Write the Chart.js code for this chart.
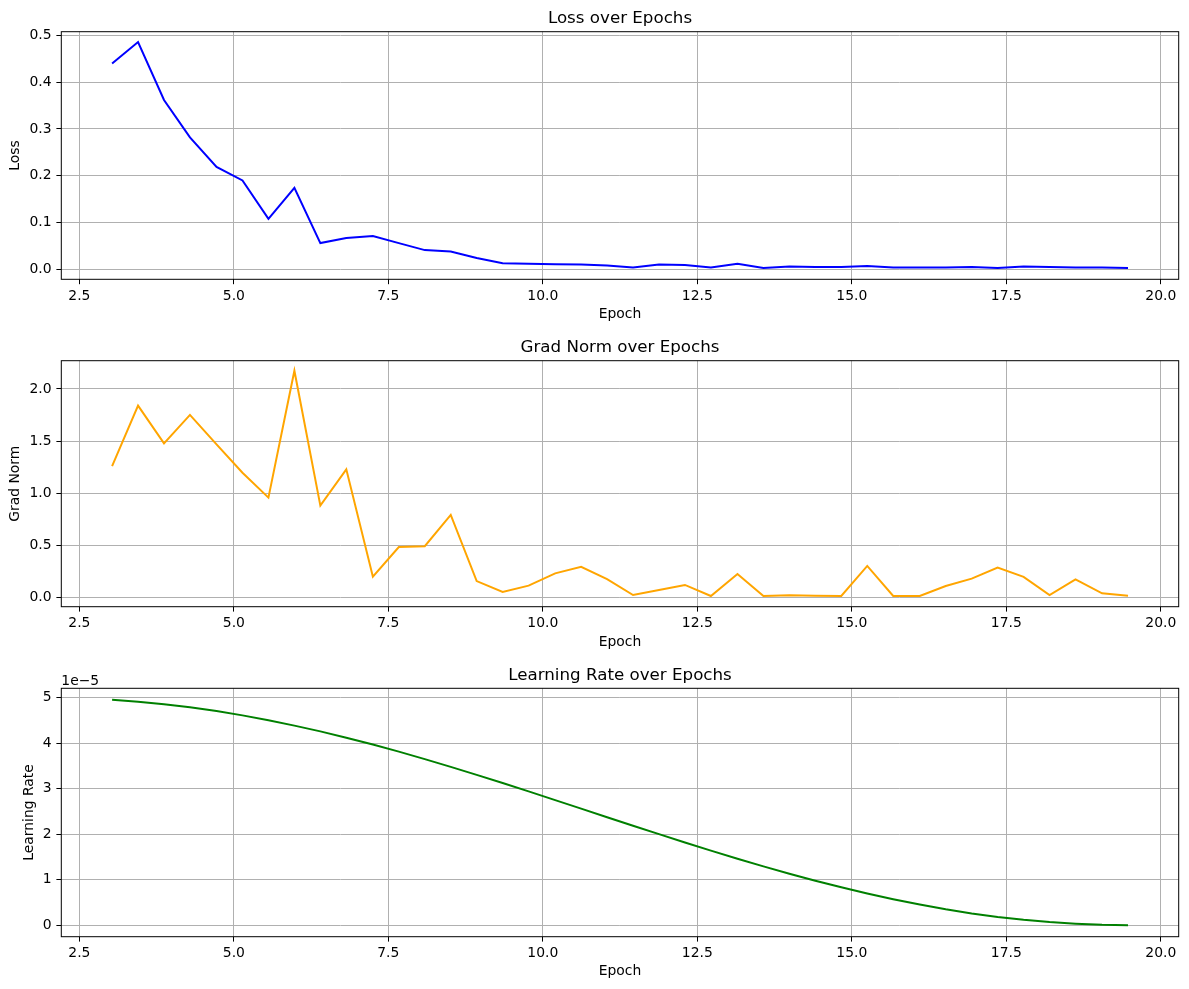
<!DOCTYPE html>
<html><head><meta charset="utf-8">
<script src="https://cdn.jsdelivr.net/npm/chart.js@4.4.1/dist/chart.umd.min.js"></script>
<style>
html,body{margin:0;padding:0;background:#fff;}
body{width:1189px;height:989px;position:relative;overflow:hidden;}
canvas{position:absolute;left:0;}
</style></head><body>
<canvas id="c1" width="1189" height="330" style="top:0px"></canvas>
<canvas id="c2" width="1189" height="330" style="top:330px"></canvas>
<canvas id="c3" width="1189" height="329" style="top:660px"></canvas>
<script>
const epochs = [3.03, 3.45, 3.87, 4.29, 4.72, 5.14, 5.56, 5.98, 6.40, 6.82, 7.25, 7.67, 8.09, 8.51, 8.93, 9.35, 9.77, 10.20, 10.62, 11.04,
  11.46, 11.88, 12.30, 12.72, 13.15, 13.57, 13.99, 14.41, 14.83, 15.25, 15.67, 16.10, 16.52, 16.94, 17.36, 17.78, 18.20, 18.62, 19.05, 19.47];
const loss = [0.440, 0.486, 0.362, 0.282, 0.219, 0.190, 0.108, 0.174, 0.056, 0.067, 0.071, 0.056, 0.041, 0.038, 0.024, 0.013, 0.012, 0.011, 0.010, 0.008,
  0.004, 0.010, 0.009, 0.004, 0.012, 0.003, 0.006, 0.005, 0.005, 0.007, 0.004, 0.004, 0.004, 0.005, 0.003, 0.006, 0.005, 0.004, 0.004, 0.003];
const gradNorm = [1.260, 1.840, 1.477, 1.751, 1.468, 1.196, 0.957, 2.175, 0.880, 1.228, 0.198, 0.482, 0.491, 0.791, 0.156, 0.051, 0.112, 0.230, 0.293, 0.174,
  0.022, 0.070, 0.119, 0.013, 0.224, 0.013, 0.019, 0.016, 0.013, 0.301, 0.013, 0.013, 0.109, 0.179, 0.285, 0.196, 0.022, 0.173, 0.038, 0.016];
const learningRate = [4.958e-5, 4.916e-5, 4.861e-5, 4.792e-5, 4.709e-5, 4.615e-5, 4.508e-5, 4.390e-5, 4.263e-5, 4.124e-5,
  3.974e-5, 3.818e-5, 3.653e-5, 3.483e-5, 3.307e-5, 3.127e-5, 2.944e-5, 2.753e-5, 2.565e-5, 2.377e-5,
  2.190e-5, 2.004e-5, 1.821e-5, 1.642e-5, 1.464e-5, 1.296e-5, 1.135e-5, 0.981e-5, 0.836e-5, 0.700e-5,
  0.574e-5, 0.456e-5, 0.352e-5, 0.261e-5, 0.184e-5, 0.121e-5, 0.071e-5, 0.035e-5, 0.010e-5, 0.002e-5];
const xTicks = [2.5, 5.0, 7.5, 10.0, 12.5, 15.0, 17.5, 20.0];
const lossTicks = [0.0, 0.1, 0.2, 0.3, 0.4, 0.5];
const gradTicks = [0.0, 0.5, 1.0, 1.5, 2.0];
const lrTicks = [0, 1e-5, 2e-5, 3e-5, 4e-5, 5e-5];

Chart.defaults.font.family = '"DejaVu Sans", sans-serif';
Chart.defaults.font.size = 13.9;
Chart.defaults.color = '#000';

const FONT = {family: '"DejaVu Sans", sans-serif', size: 13.9};

function makeChart(cfg) {
  const framePlugin = {
    id: 'frame' + cfg.id,
    afterDatasetsDraw(chart) {
      const a = chart.chartArea, ctx = chart.ctx;
      ctx.save();
      ctx.strokeStyle = '#000';
      ctx.lineWidth = 1;
      ctx.strokeRect(a.left, a.top, a.right - a.left, a.bottom - a.top);
      ctx.fillStyle = '#000';
      ctx.font = '16.7px "DejaVu Sans", sans-serif';
      ctx.textAlign = 'center';
      ctx.textBaseline = 'alphabetic';
      ctx.fillText(cfg.title, (a.left + a.right) / 2, a.top - 8.3);
      if (cfg.offsetText) {
        ctx.font = '13.9px "DejaVu Sans", sans-serif';
        ctx.textAlign = 'left';
        ctx.fillText(cfg.offsetText, a.left, a.top - 3.3);
      }
      ctx.restore();
    }
  };
  const grid = {color: '#b0b0b0', lineWidth: 1, tickLength: 4.9, tickColor: '#000', tickWidth: 1};
  return new Chart(document.getElementById(cfg.id), {
    type: 'line',
    data: {
      datasets: [{
        data: epochs.map((x, i) => ({x: x, y: cfg.values[i]})),
        borderColor: cfg.color,
        borderWidth: 2,
        pointRadius: 0,
        fill: false,
        tension: 0
      }]
    },
    options: {
      responsive: false,
      animation: false,
      devicePixelRatio: 1,
      events: [],
      layout: {padding: {top: cfg.padTop, right: 10.3, left: 0, bottom: 0}},
      plugins: {legend: {display: false}, tooltip: {enabled: false}},
      scales: {
        x: {
          type: 'linear',
          min: 2.208, max: 20.29,
          afterBuildTicks: s => { s.ticks = xTicks.map(v => ({value: v})); },
          afterFit: s => { s.height = cfg.xh; },
          ticks: {callback: v => v.toFixed(1), padding: 3.5, maxRotation: 0, autoSkip: false, font: FONT},
          grid: grid,
          border: {display: false},
          title: {display: true, text: 'Epoch', font: FONT, padding: {top: 0, bottom: cfg.xTitlePad}}
        },
        y: {
          type: 'linear',
          min: cfg.ymin, max: cfg.ymax,
          afterBuildTicks: s => { s.ticks = cfg.yTicks.map(v => ({value: v})); },
          afterFit: s => { s.width = 61.3; },
          ticks: {callback: cfg.yFmt, padding: 4.9, autoSkip: false, font: FONT},
          grid: grid,
          border: {display: false},
          title: {display: true, text: cfg.yLabel, font: FONT, padding: {top: cfg.yTitlePad, bottom: 0}}
        }
      }
    },
    plugins: [framePlugin]
  });
}

makeChart({id: 'c1', values: loss, color: 'blue', title: 'Loss over Epochs', yLabel: 'Loss',
  padTop: 31.7, xh: 50.7, xTitlePad: 7.2, ymin: -0.0214, ymax: 0.508, yTicks: lossTicks,
  yFmt: v => v.toFixed(1), yTitlePad: 7.4});
makeChart({id: 'c2', values: gradNorm, color: '#FFA500', title: 'Grad Norm over Epochs', yLabel: 'Grad Norm',
  padTop: 30.7, xh: 53.3, xTitlePad: 9.7, ymin: -0.090, ymax: 2.271, yTicks: gradTicks,
  yFmt: v => v.toFixed(1), yTitlePad: 7.4});
makeChart({id: 'c3', values: learningRate, color: '#008000', title: 'Learning Rate over Epochs', yLabel: 'Learning Rate',
  padTop: 28.3, xh: 52.3, xTitlePad: 8.8, ymin: -0.25e-5, ymax: 5.21e-5, yTicks: lrTicks,
  yFmt: v => String(Math.round(v * 1e5)), yTitlePad: 20.7, offsetText: '1e\u22125'});
</script>
</body></html>
